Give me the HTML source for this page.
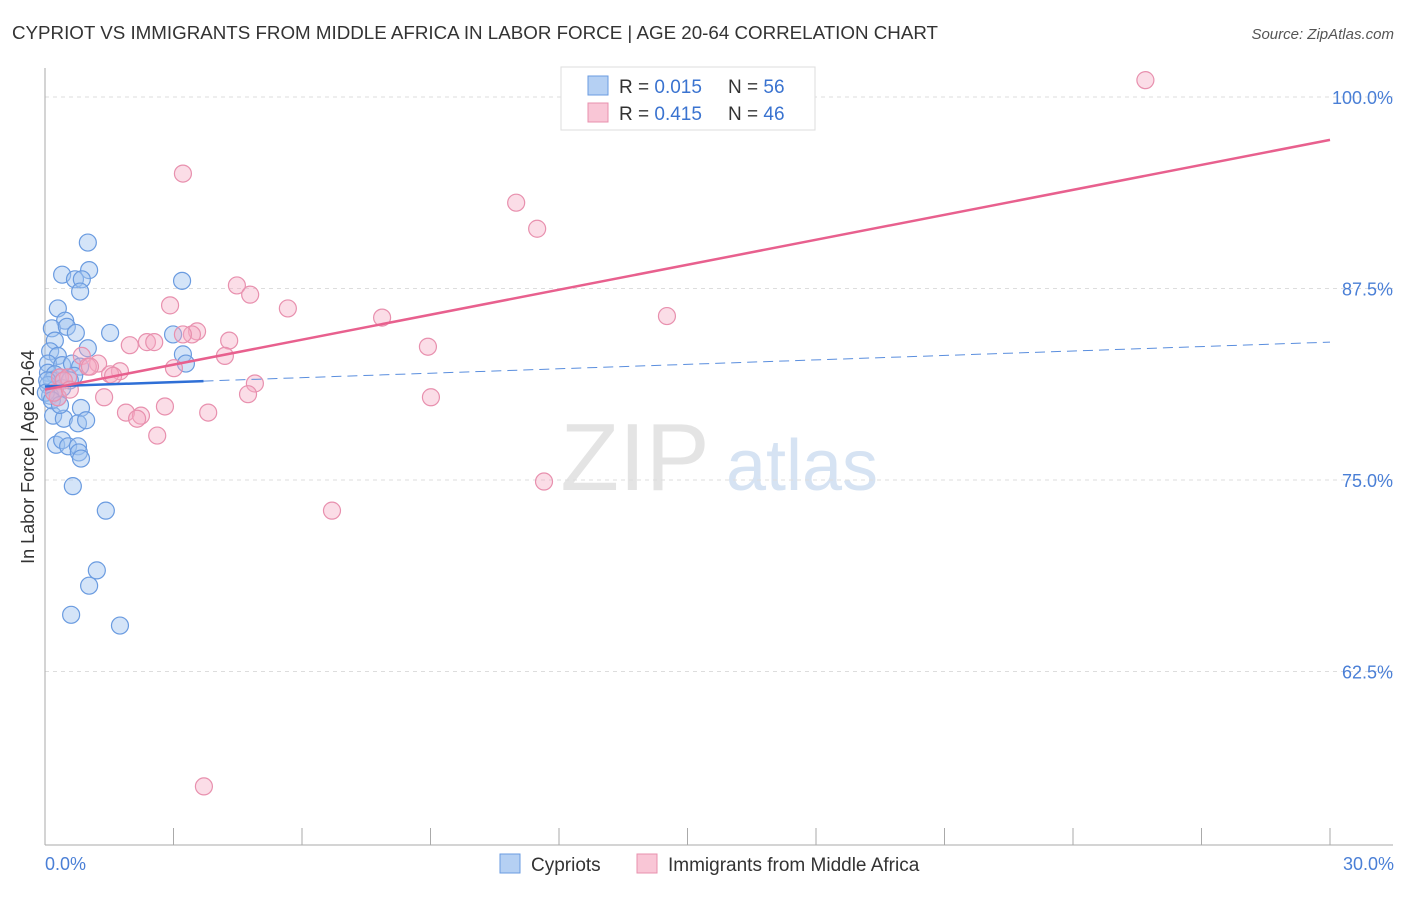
<!DOCTYPE html>
<html><head><meta charset="utf-8"><style>
body{margin:0;background:#fff;font-family:"Liberation Sans",sans-serif;}
svg text{font-family:"Liberation Sans",sans-serif;}
</style></head><body>
<svg id="chart" width="1406" height="892" viewBox="0 0 1406 892">
<text x="12" y="39" font-size="18" fill="#333" textLength="926" lengthAdjust="spacingAndGlyphs">CYPRIOT VS IMMIGRANTS FROM MIDDLE AFRICA IN LABOR FORCE | AGE 20-64 CORRELATION CHART</text>
<text x="1394" y="39" font-size="15" fill="#555" text-anchor="end" font-style="italic">Source: ZipAtlas.com</text>
<g>
<text x="635" y="490" font-size="96" fill="#e4e4e4" text-anchor="middle" font-family="Liberation Serif">ZIP</text>
<text x="802" y="490" font-size="72" fill="#d6e3f3" text-anchor="middle">atlas</text>
</g>
<g id="grid"></g>
<g id="axes"></g>
<g id="marks"></g>
<text transform="translate(34,457) rotate(-90)" font-size="18" fill="#333" text-anchor="middle">In Labor Force | Age 20-64</text>
<text x="45" y="870" font-size="18" fill="#4a7fd6">0.0%</text>
<text x="1394" y="870" font-size="18" fill="#4a7fd6" text-anchor="end">30.0%</text>
<g>
<rect x="561" y="67" width="254" height="63" fill="#fff" stroke="#ddd"/>
<rect x="588" y="76" width="20" height="19" fill="#b5d0f3" stroke="#6a9be0"/>
<rect x="588" y="103" width="20" height="19" fill="#f9c6d6" stroke="#e890ae"/>
<text x="619" y="93" font-size="19" fill="#333">R = <tspan fill="#3a73d0">0.015</tspan></text>
<text x="728" y="93" font-size="19" fill="#333">N = <tspan fill="#3a73d0">56</tspan></text>
<text x="619" y="120" font-size="19" fill="#333">R = <tspan fill="#3a73d0">0.415</tspan></text>
<text x="728" y="120" font-size="19" fill="#333">N = <tspan fill="#3a73d0">46</tspan></text>
</g>
<g>
<rect x="500" y="854" width="20" height="19" fill="#b5d0f3" stroke="#6a9be0"/>
<text x="531" y="871" font-size="19" fill="#333">Cypriots</text>
<rect x="637" y="854" width="20" height="19" fill="#f9c6d6" stroke="#e890ae"/>
<text x="668" y="871" font-size="19" fill="#333">Immigrants from Middle Africa</text>
</g>
</svg>
<script>
const yTicks=[100,87.5,75,62.5];
const yTickLabels=["100.0%","87.5%","75.0%","62.5%"];
const xTicks=[0,3,6,9,12,15,18,21,24,27,30];
const blueX=[1.00,0.40,1.03,0.70,0.86,0.82,3.20,0.30,0.47,0.16,0.51,0.72,1.52,0.23,1.00,2.99,3.22,3.29,0.12,0.30,0.07,0.40,0.63,0.82,0.07,0.23,0.16,0.35,0.68,0.07,0.23,0.40,0.12,0.30,0.19,0.44,0.84,0.77,0.96,0.26,0.40,0.54,0.77,0.79,0.84,0.65,1.42,1.21,1.03,0.61,1.75,0.05,0.02,0.58,0.16,0.35];
const blueY=[90.5,88.4,88.7,88.1,88.1,87.3,88.0,86.2,85.4,84.9,85.0,84.6,84.6,84.1,83.6,84.5,83.2,82.6,83.4,83.1,82.6,82.5,82.6,82.4,82.0,81.9,81.5,81.7,81.8,81.2,80.9,81.0,80.5,80.4,79.2,79.0,79.7,78.7,78.9,77.3,77.6,77.2,77.2,76.8,76.4,74.6,73.0,69.1,68.1,66.2,65.5,81.5,80.7,81.5,80.2,79.9];
const pinkX=[25.69,3.22,11.00,11.49,4.48,4.79,2.92,5.67,7.87,14.52,3.55,3.43,3.22,2.38,2.55,1.98,4.30,8.94,4.20,3.01,0.86,1.24,1.00,1.75,1.52,1.59,0.35,0.54,4.90,4.74,9.01,1.38,0.30,0.21,2.80,1.89,2.24,2.15,3.81,2.62,11.65,6.70,3.71,0.44,1.05,0.58];
const pinkY=[101.1,95.0,93.1,91.4,87.7,87.1,86.4,86.2,85.6,85.7,84.7,84.5,84.5,84.0,84.0,83.8,84.1,83.7,83.1,82.3,83.1,82.6,82.4,82.1,81.9,81.8,81.7,81.7,81.3,80.6,80.4,80.4,80.4,80.7,79.8,79.4,79.2,79.0,79.4,77.9,74.9,73.0,55.0,81.5,82.4,80.9];
const blueTrend=[81.1,84.0];
const blueSolidEnd=3.7;
const pinkTrend=[80.9,97.2];

const NS="http://www.w3.org/2000/svg";
const X0=45,X1=1330,Y100=97,PX_PER_PCT=191.5/12.5;
const xs=v=>X0+(v/30)*(X1-X0);
const ys=v=>Y100+(100-v)*PX_PER_PCT;
function mk(tag,attrs,parent){const e=document.createElementNS(NS,tag);for(const k in attrs)e.setAttribute(k,attrs[k]);parent.appendChild(e);return e;}
const grid=document.getElementById('grid'),axes=document.getElementById('axes'),marks=document.getElementById('marks');
yTicks.forEach((t,i)=>{
 const l=mk('line',{x1:X0,x2:1393,y1:ys(t),y2:ys(t),stroke:'#ddd','stroke-dasharray':'4,4'},grid);
 
 
 const tx=mk('text',{x:1393,y:ys(t)+7,'font-size':18,fill:'#4a7fd6','text-anchor':'end'},axes);
 tx.textContent=yTickLabels[i];
 
 
});
const ya=mk('line',{x1:X0,x2:X0,y1:68,y2:845,stroke:'#aaa'},axes);


const xa=mk('line',{x1:X0,x2:1393,y1:845,y2:845,stroke:'#aaa'},axes);


xTicks.forEach(t=>{
 const l=mk('line',{x1:xs(t),x2:xs(t),y1:828,y2:845,stroke:'#aaa'},axes);
 
 
});
blueX.forEach((v,i)=>{
 const c=mk('circle',{cx:xs(v),cy:ys(blueY[i]),r:8.5,fill:'rgba(160,196,240,0.45)',stroke:'#6a9be0','stroke-width':1.2},marks);
 
 
});
pinkX.forEach((v,i)=>{
 const c=mk('circle',{cx:xs(v),cy:ys(pinkY[i]),r:8.5,fill:'rgba(245,170,195,0.4)',stroke:'#e890ae','stroke-width':1.2},marks);
 
 
});
const bAt=x=>blueTrend[0]+(blueTrend[1]-blueTrend[0])*x/30;
const bd=mk('line',{x1:xs(blueSolidEnd),y1:ys(bAt(blueSolidEnd)),x2:xs(30),y2:ys(bAt(30)),stroke:'#5a8ede','stroke-width':1,'stroke-dasharray':'10,6'},marks);


const bs=mk('line',{x1:xs(0),y1:ys(bAt(0)),x2:xs(blueSolidEnd),y2:ys(bAt(blueSolidEnd)),stroke:'#2f6fd6','stroke-width':2.5},marks);


const pl=mk('line',{x1:xs(0),y1:ys(pinkTrend[0]),x2:xs(30),y2:ys(pinkTrend[1]),stroke:'#e8608e','stroke-width':2.5},marks);


</script>
</body></html>
